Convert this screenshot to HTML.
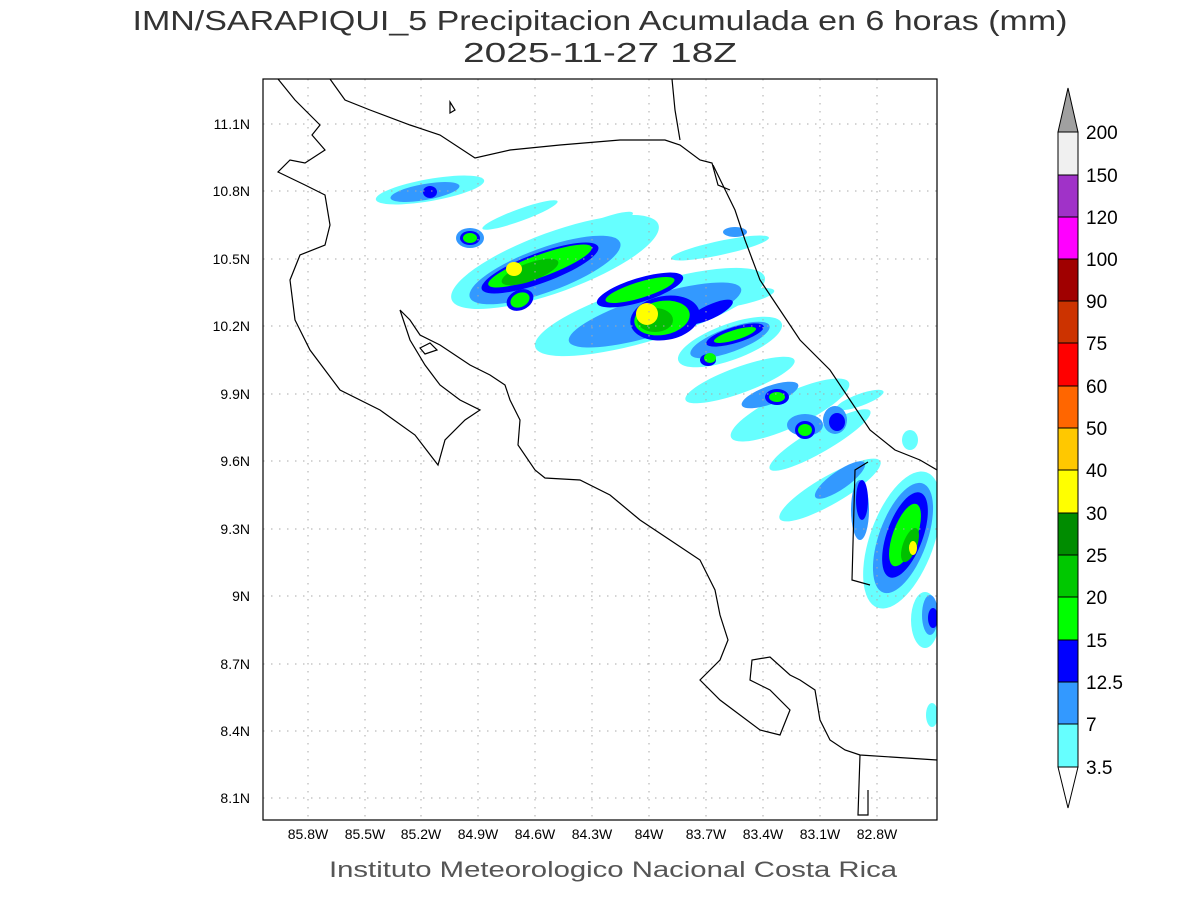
<!DOCTYPE html>
<html><head><style>
body{margin:0;background:#fff;}
svg{display:block}
text{font-family:"Liberation Sans",sans-serif;}
</style></head><body>
<svg width="1200" height="900" viewBox="0 0 1200 900" xmlns="http://www.w3.org/2000/svg">
<rect width="1200" height="900" fill="#fff"/>
<text x="600" y="30" font-size="28" text-anchor="middle" fill="#333" textLength="935" lengthAdjust="spacingAndGlyphs">IMN/SARAPIQUI_5 Precipitacion Acumulada en 6 horas (mm)</text>
<text x="600" y="62" font-size="28" text-anchor="middle" fill="#333" textLength="274" lengthAdjust="spacingAndGlyphs">2025-11-27 18Z</text>
<defs><clipPath id="c"><rect x="263" y="79" width="674" height="741"/></clipPath></defs>
<g clip-path="url(#c)">
<g>
<g fill="#66ffff">
<ellipse cx="430" cy="190" rx="55" ry="11" transform="rotate(-10 430 190)"/>
<ellipse cx="555" cy="262" rx="110" ry="30" transform="rotate(-20 555 262)"/>
<ellipse cx="650" cy="312" rx="120" ry="28" transform="rotate(-17 650 312)"/>
<ellipse cx="730" cy="342" rx="55" ry="18" transform="rotate(-20 730 342)"/>
<ellipse cx="740" cy="380" rx="58" ry="13" transform="rotate(-20 740 380)"/>
<ellipse cx="790" cy="410" rx="65" ry="17" transform="rotate(-25 790 410)"/>
<ellipse cx="820" cy="440" rx="58" ry="12" transform="rotate(-30 820 440)"/>
<ellipse cx="830" cy="490" rx="58" ry="14" transform="rotate(-30 830 490)"/>
<ellipse cx="902" cy="540" rx="32" ry="72" transform="rotate(20 902 540)"/>
<ellipse cx="925" cy="620" rx="14" ry="28"/>
<ellipse cx="720" cy="248" rx="50" ry="7" transform="rotate(-12 720 248)"/>
<ellipse cx="740" cy="298" rx="35" ry="7" transform="rotate(-12 740 298)"/>
<ellipse cx="860" cy="400" rx="25" ry="6" transform="rotate(-20 860 400)"/>
<ellipse cx="932" cy="715" rx="6" ry="12"/>
<ellipse cx="910" cy="440" rx="8" ry="10"/>
<ellipse cx="520" cy="215" rx="40" ry="6" transform="rotate(-20 520 215)"/>
<ellipse cx="600" cy="225" rx="35" ry="6" transform="rotate(-20 600 225)"/>
</g>
<g fill="#3399ff">
<ellipse cx="425" cy="192" rx="35" ry="8" transform="rotate(-10 425 192)"/>
<ellipse cx="545" cy="270" rx="80" ry="22" transform="rotate(-20 545 270)"/>
<ellipse cx="655" cy="315" rx="90" ry="20" transform="rotate(-17 655 315)"/>
<ellipse cx="730" cy="340" rx="42" ry="12" transform="rotate(-20 730 340)"/>
<ellipse cx="770" cy="395" rx="30" ry="9" transform="rotate(-20 770 395)"/>
<ellipse cx="805" cy="425" rx="18" ry="11"/>
<ellipse cx="835" cy="420" rx="12" ry="14"/>
<ellipse cx="840" cy="480" rx="30" ry="9" transform="rotate(-35 840 480)"/>
<ellipse cx="903" cy="538" rx="24" ry="58" transform="rotate(20 903 538)"/>
<ellipse cx="860" cy="510" rx="9" ry="30"/>
<ellipse cx="470" cy="238" rx="14" ry="10"/>
<ellipse cx="735" cy="232" rx="12" ry="5"/>
<ellipse cx="930" cy="615" rx="8" ry="20"/>
</g>
<g fill="#0000ff">
<ellipse cx="540" cy="268" rx="62" ry="15" transform="rotate(-20 540 268)"/>
<ellipse cx="520" cy="300" rx="14" ry="10" transform="rotate(-25 520 300)"/>
<ellipse cx="640" cy="290" rx="45" ry="12" transform="rotate(-17 640 290)"/>
<ellipse cx="665" cy="318" rx="35" ry="22" transform="rotate(-10 665 318)"/>
<ellipse cx="710" cy="312" rx="25" ry="7" transform="rotate(-25 710 312)"/>
<ellipse cx="735" cy="335" rx="30" ry="8" transform="rotate(-17 735 335)"/>
<ellipse cx="708" cy="360" rx="8" ry="6"/>
<ellipse cx="777" cy="397" rx="12" ry="8"/>
<ellipse cx="805" cy="430" rx="10" ry="9"/>
<ellipse cx="837" cy="422" rx="8" ry="9"/>
<ellipse cx="905" cy="535" rx="18" ry="45" transform="rotate(20 905 535)"/>
<ellipse cx="862" cy="500" rx="6" ry="20"/>
<ellipse cx="470" cy="238" rx="10" ry="7"/>
<ellipse cx="430" cy="192" rx="7" ry="6"/>
<ellipse cx="933" cy="618" rx="5" ry="10"/>
</g>
<g fill="#00ff00">
<ellipse cx="540" cy="266" rx="55" ry="11" transform="rotate(-20 540 266)"/>
<ellipse cx="520" cy="300" rx="10" ry="7" transform="rotate(-25 520 300)"/>
<ellipse cx="640" cy="290" rx="36" ry="8" transform="rotate(-17 640 290)"/>
<ellipse cx="662" cy="318" rx="28" ry="17" transform="rotate(-10 662 318)"/>
<ellipse cx="735" cy="335" rx="22" ry="5" transform="rotate(-17 735 335)"/>
<ellipse cx="777" cy="397" rx="8" ry="5"/>
<ellipse cx="805" cy="430" rx="7" ry="6"/>
<ellipse cx="905" cy="535" rx="12" ry="33" transform="rotate(20 905 535)"/>
<ellipse cx="470" cy="238" rx="7" ry="5"/>
<ellipse cx="710" cy="358" rx="6" ry="5"/>
</g>
<g fill="#00c000">
<ellipse cx="530" cy="272" rx="30" ry="9" transform="rotate(-20 530 272)"/>
<ellipse cx="655" cy="320" rx="18" ry="12"/>
<ellipse cx="910" cy="545" rx="7" ry="18" transform="rotate(20 910 545)"/>
</g>
<g fill="#ffff00">
<ellipse cx="514" cy="269" rx="8" ry="7"/>
<ellipse cx="647" cy="314" rx="11" ry="11"/>
<ellipse cx="913" cy="548" rx="4" ry="7"/>
</g>
</g>
<g stroke="#aaa" stroke-width="1" stroke-dasharray="1.5,6.5">
<line x1="308" y1="79" x2="308" y2="820"/><line x1="365" y1="79" x2="365" y2="820"/><line x1="421" y1="79" x2="421" y2="820"/><line x1="478" y1="79" x2="478" y2="820"/><line x1="535" y1="79" x2="535" y2="820"/><line x1="592" y1="79" x2="592" y2="820"/><line x1="649" y1="79" x2="649" y2="820"/><line x1="706" y1="79" x2="706" y2="820"/><line x1="763" y1="79" x2="763" y2="820"/><line x1="820" y1="79" x2="820" y2="820"/><line x1="877" y1="79" x2="877" y2="820"/>
<line x1="263" y1="124" x2="937" y2="124"/><line x1="263" y1="191" x2="937" y2="191"/><line x1="263" y1="259" x2="937" y2="259"/><line x1="263" y1="326" x2="937" y2="326"/><line x1="263" y1="394" x2="937" y2="394"/><line x1="263" y1="461" x2="937" y2="461"/><line x1="263" y1="529" x2="937" y2="529"/><line x1="263" y1="596" x2="937" y2="596"/><line x1="263" y1="664" x2="937" y2="664"/><line x1="263" y1="731" x2="937" y2="731"/><line x1="263" y1="798" x2="937" y2="798"/>
</g>
<g fill="none" stroke="#000" stroke-width="1.2">
<polyline points="278,79 295,100 320,125 312,135 325,150 305,163 290,160 278,172 305,185 325,195 330,225 325,245 300,255 290,280 295,320 310,350 340,390 380,410 415,435 438,465 445,440 465,420 480,410 460,400 440,385 425,365 410,340 400,310 410,320 420,335 440,345 470,365 490,375 505,385 510,400 520,420 518,445 535,470 545,478 580,480 610,495 640,520 670,540 700,560 715,590 720,615 728,640 720,660 700,680 720,700 760,730 780,735 790,710 770,690 750,680 752,660 770,657 790,675 800,680 815,690 820,720 830,740 845,750 860,755 937,760"/>
<polyline points="860,755 858,815 868,815 868,790"/>
<polyline points="330,79 345,100 370,110 410,125 440,135 475,158 510,150 560,145 620,140 665,140 680,145 700,160 712,163 718,185 730,190"/>
<polyline points="672,79 675,110 680,140"/>
<polyline points="713,165 735,210 745,240 760,280 780,310 800,340 830,370 850,400 870,430 895,450 920,460 937,470"/>
<polyline points="868,462 855,470 852,580 870,585"/>
<polygon points="420,348 430,343 437,350 425,354"/>
<polygon points="450,102 455,110 450,113"/>
</g>
</g>
<rect x="263" y="79" width="674" height="741" fill="none" stroke="#000" stroke-width="1.2"/>
<g font-size="14" fill="#000" text-anchor="middle">
<text x="308" y="839">85.8W</text><text x="365" y="839">85.5W</text><text x="421" y="839">85.2W</text><text x="478" y="839">84.9W</text><text x="535" y="839">84.6W</text><text x="592" y="839">84.3W</text><text x="649" y="839">84W</text><text x="706" y="839">83.7W</text><text x="763" y="839">83.4W</text><text x="820" y="839">83.1W</text><text x="877" y="839">82.8W</text>
</g>
<g font-size="14" fill="#000" text-anchor="end">
<text x="250" y="129">11.1N</text><text x="250" y="196">10.8N</text><text x="250" y="264">10.5N</text><text x="250" y="331">10.2N</text><text x="250" y="399">9.9N</text><text x="250" y="466">9.6N</text><text x="250" y="534">9.3N</text><text x="250" y="601">9N</text><text x="250" y="669">8.7N</text><text x="250" y="736">8.4N</text><text x="250" y="803">8.1N</text>
</g>
<text x="613" y="877" font-size="22" text-anchor="middle" fill="#555" textLength="568" lengthAdjust="spacingAndGlyphs">Instituto Meteorologico Nacional Costa Rica</text>
<g stroke="#000" stroke-width="1">
<polygon points="1058,132 1078,132 1068,88" fill="#a0a0a0"/>
<rect x="1058" y="132" width="20" height="43" fill="#f0f0f0"/>
<rect x="1058" y="175" width="20" height="42" fill="#a032c8"/>
<rect x="1058" y="217" width="20" height="42" fill="#ff00ff"/>
<rect x="1058" y="259" width="20" height="42" fill="#a00000"/>
<rect x="1058" y="301" width="20" height="42" fill="#cc3300"/>
<rect x="1058" y="343" width="20" height="43" fill="#ff0000"/>
<rect x="1058" y="386" width="20" height="42" fill="#ff6600"/>
<rect x="1058" y="428" width="20" height="42" fill="#ffc800"/>
<rect x="1058" y="470" width="20" height="43" fill="#ffff00"/>
<rect x="1058" y="513" width="20" height="42" fill="#008c00"/>
<rect x="1058" y="555" width="20" height="42" fill="#00c800"/>
<rect x="1058" y="597" width="20" height="43" fill="#00ff00"/>
<rect x="1058" y="640" width="20" height="42" fill="#0000ff"/>
<rect x="1058" y="682" width="20" height="42" fill="#3399ff"/>
<rect x="1058" y="724" width="20" height="43" fill="#66ffff"/>
<polygon points="1058,767 1078,767 1068,808" fill="#fff"/>
</g>
<g font-size="19" fill="#000">
<text x="1086" y="139">200</text><text x="1086" y="182">150</text><text x="1086" y="224">120</text><text x="1086" y="266">100</text><text x="1086" y="308">90</text><text x="1086" y="350">75</text><text x="1086" y="393">60</text><text x="1086" y="435">50</text><text x="1086" y="477">40</text><text x="1086" y="520">30</text><text x="1086" y="562">25</text><text x="1086" y="604">20</text><text x="1086" y="647">15</text><text x="1086" y="689">12.5</text><text x="1086" y="731">7</text><text x="1086" y="774">3.5</text>
</g>
</svg>
</body></html>
